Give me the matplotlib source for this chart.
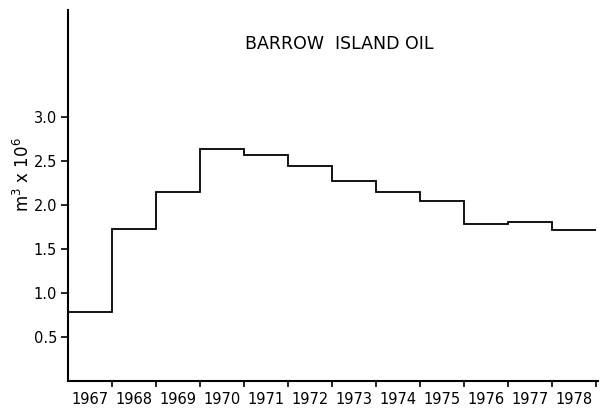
import numpy as np
import matplotlib
matplotlib.use('Agg')
import matplotlib.pyplot as plt

# annual production, Barrow Island field (million cubic metres)
years = [1967, 1968, 1969, 1970, 1971, 1972, 1973, 1974, 1975, 1976, 1977, 1978]
production = [0.78, 1.73, 2.15, 2.64, 2.57, 2.45, 2.28, 2.15, 2.05, 1.79, 1.81, 1.72]
y_ticks = [0.5, 1.0, 1.5, 2.0, 2.5, 3.0]

plt.rcParams['font.family'] = 'DejaVu Sans'

fig = plt.figure(figsize=(6.01, 4.11), dpi=100)
ax = fig.add_axes([68 / 601, 30 / 411, 530 / 601, 371 / 411])

edges = list(years) + [years[-1] + 1]
ax.stairs(production, edges, baseline=None, color='black', linewidth=1.3)

ax.set_xlim(years[0], years[-1] + 1.05)
ax.set_ylim(0, 4.22)

for side in ['top', 'right']:
    ax.spines[side].set_visible(False)
for side in ['left', 'bottom']:
    ax.spines[side].set_linewidth(1.5)

# year boundaries get the tick marks, year names sit between them
ax.set_xticks(edges[1:])
ax.set_xticklabels([])
ax.set_xticks(np.array(years) + 0.5, minor=True)
ax.set_xticklabels([str(y) for y in years], minor=True, fontsize=10.5)
ax.tick_params(axis='x', which='major', direction='out', length=4, width=1.2)
ax.tick_params(axis='x', which='minor', length=0, pad=8)

ax.set_yticks(y_ticks)
ax.set_yticklabels(['%.1f' % v for v in y_ticks], fontsize=10.5)
ax.tick_params(axis='y', direction='out', length=5, width=1.2, pad=3)

ax.text(1973.16, 3.83, 'BARROW  ISLAND OIL', fontsize=12.5, ha='center', va='center')
fig.text(23 / 601, 1 - 175 / 411, r'm$^3$ x 10$^6$', rotation=90,
         fontsize=12, ha='center', va='center')

fig.savefig('out.png', dpi=100)
